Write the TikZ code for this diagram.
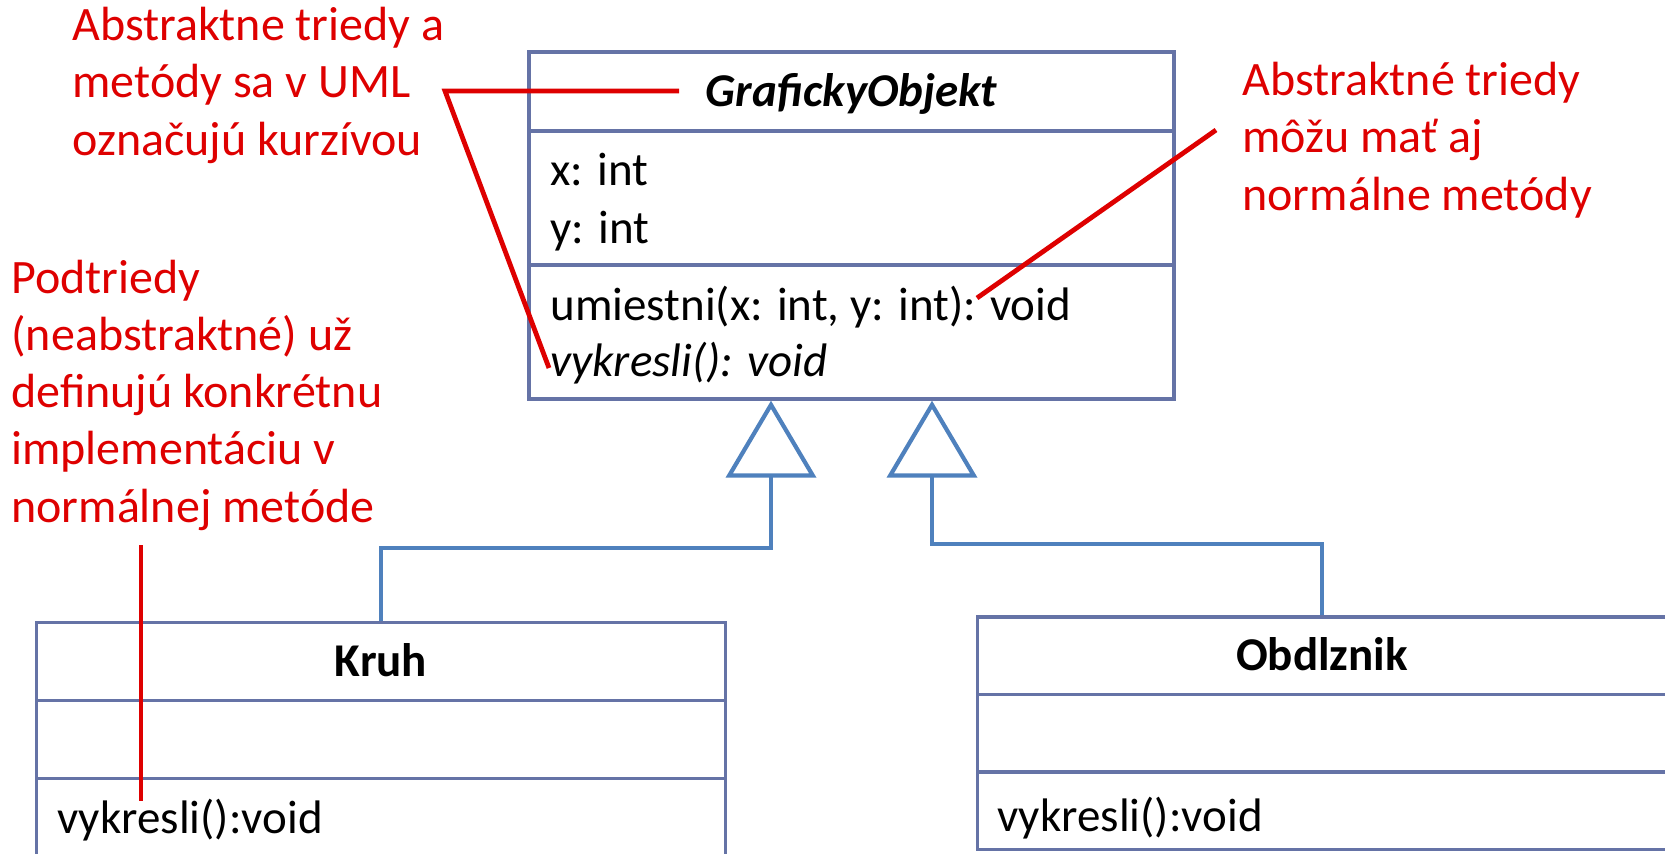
\documentclass[tikz,border=0pt]{standalone}
\usepackage{fontspec}
\setmainfont{Carlito}
\usetikzlibrary{arrows.meta}
\definecolor{boxline}{RGB}{101,115,166}
\definecolor{genline}{RGB}{79,129,189}
\definecolor{notered}{RGB}{222,0,0}
\begin{document}
\begin{tikzpicture}[
  x=0.5pt, y=-0.5pt,
  font=\fontsize{23.5}{28.6}\selectfont,
  comp/.style={draw=boxline, line width=1.65pt, inner sep=0pt},
  goComp/.style={comp, minimum width=322.5pt, minimum height=67pt},
  subComp/.style={comp, minimum width=344.5pt, minimum height=39pt},
  classtitle/.style={font=\fontsize{23.5}{28.6}\selectfont\bfseries, text height=15pt, text depth=0pt},
  member/.style={anchor=base west, inner sep=0pt},
  % multi-line notes are anchored at the baseline of their last line
  note/.style={text=notered, font=\fontsize{24}{28.6}\selectfont,
    align=left, anchor=base west, inner sep=0pt},
  callout/.style={draw=notered, line width=2.4pt},
  gen/.style={draw=genline, line width=2.1pt,
    -{Triangle[open, length=38.5pt, width=45pt]}}
]
\path[use as bounding box, clip] (0,0) rectangle (1665,853);

% abstract class GrafickyObjekt
\node[goComp, classtitle, minimum height=39.5pt] (goT) at (851.5,91.5)
  {\itshape GrafickyObjekt};
\node[goComp] (goA) at (851.5,198) {};
\node[goComp] (goO) at (851.5,332) {};
\node[member] (goX) at (550,185) {x: int};
\node[member] (goY) at (550,243) {y: int};
\node[member] (goM1) at (550,320) {umiestni(x: int, y: int): void};
\node[member] (goM2) at (550,376) {\itshape vykresli(): void};

% subclass Kruh
\node[subComp, classtitle] (kT) at (381,661.5) {Kruh};
\node[subComp] (kA) at (381,739.5) {};
\node[subComp] (kO) at (381,817.5) {};
\node[member] (kM) at (57,833) {vykresli():void};

% subclass Obdlznik
\node[subComp, classtitle, minimum height=38.75pt] (oT) at (1322,655.75) {Obdlznik};
\node[subComp, minimum height=38.75pt] (oA) at (1322,733.25) {};
\node[subComp, minimum height=38.75pt] (oO) at (1322,810.75) {};
\node[member] (oM) at (997,831) {vykresli():void};

% generalisation arrows
\draw[gen] (kT.north) -- ++(0,-73) -| ([xshift=-40.25pt]goO.south);
\draw[gen] (oT.north) -- ++(0,-71) -| ([xshift=40.25pt]goO.south);

% notes
\node[note] (n1) at (72,155) {Abstraktne triedy a\\metódy sa v UML\\označujú kurzívou};
\node[note] (n2) at (11,522) {Podtriedy\\(neabstraktné) už\\definujú konkrétnu\\implementáciu v\\normálnej metóde};
\node[note] (n3) at (1242,210) {Abstraktné triedy\\môžu mať aj\\normálne metódy};

% note pointers
\coordinate (n1knee) at (445,91);
\coordinate (n1title) at (679,91);
\coordinate (n1method) at (549,368);
\coordinate (n3start) at (1216,130);
\coordinate (n3method) at (977,298);
\coordinate (n2start) at (141,545);
\coordinate (n2method) at (141,801);
\draw[callout] (n1title) -- (n1knee) -- (n1method);
\draw[callout] (n3start) -- (n3method);
\draw[callout] (n2start) -- (n2method);
\end{tikzpicture}
\end{document}
